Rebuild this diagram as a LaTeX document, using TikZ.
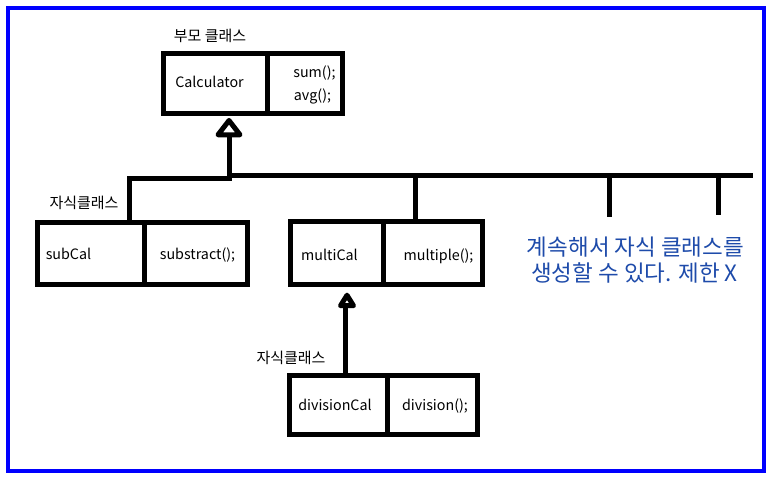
\documentclass[tikz,border=0pt]{standalone}
\usepackage{fontspec}
\setmainfont{Noto Sans CJK KR}
\definecolor{frameblue}{RGB}{0,0,255}
\definecolor{noteblue}{RGB}{30,75,170}
\begin{document}
\begin{tikzpicture}[x=1pt,y=-1pt,
  cell/.style={draw, line width=5pt, inner sep=0pt, outer sep=0pt},
  wire/.style={draw, line width=5pt, line join=miter, line cap=rect},
  tri/.style={draw, fill=white, line width=5pt, line join=round},
  txt/.style={inner sep=0pt, font=\fontsize{14.3pt}{17pt}\selectfont},
  ktxt/.style={inner sep=0pt, font=\fontsize{15pt}{18pt}\selectfont},
  note/.style={inner sep=0pt, text=noteblue, font=\fontsize{22.5pt}{26pt}\selectfont}]
\useasboundingbox (0,0) rectangle (771,478);
\draw[frameblue, line width=4pt] (8,8) rectangle (763.7,470.7);

% Calculator
\node[cell, minimum width=104pt, minimum height=60pt] (calcL) at (215.5,84) {};
\node[cell, minimum width=75pt, minimum height=60pt] (calcR) at (305,84) {};
\node[ktxt] (calcT) at (210,35.5) {부모 클래스};
\node[txt, anchor=base] (calcN) at (209.5,88) {Calculator};
\node[txt, anchor=base] (calcM1) at (314.5,78) {sum();};
\node[txt, anchor=base] (calcM2) at (312.5,101) {avg();};

% subCal
\node[cell, minimum width=106.5pt, minimum height=62pt] (subL) at (90.75,253.5) {};
\node[cell, minimum width=103.5pt, minimum height=62pt] (subR) at (195.75,253.5) {};
\node[ktxt] (subT) at (84,203) {자식클래스};
\node[txt, anchor=base] (subN) at (68.5,260) {subCal};
\node[txt, anchor=base] (subM) at (197.5,260) {substract();};

% multiCal
\node[cell, minimum width=92.5pt, minimum height=62.5pt] (mulL) at (336.75,253.25) {};
\node[cell, minimum width=99.5pt, minimum height=62.5pt] (mulR) at (432.75,253.25) {};
\node[txt, anchor=base] (mulN) at (329.5,260.5) {multiCal};
\node[txt, anchor=base] (mulM) at (438.5,260.5) {multiple();};

% divisionCal
\node[cell, minimum width=98.5pt, minimum height=58.5pt] (divL) at (338.25,404.75) {};
\node[cell, minimum width=90pt, minimum height=58.5pt] (divR) at (432.5,404.75) {};
\node[ktxt] (divT) at (291,358) {자식클래스};
\node[txt, anchor=base] (divN) at (335,410.5) {divisionCal};
\node[txt, anchor=base] (divM) at (435,410.5) {division();};

% note
\node[note] (note1) at (635.5,247.5) {계속해서 자식 클래스를};
\node[note] (note2) at (634.5,272.5) {생성할 수 있다. 제한 X};

% bus and connectors
\coordinate (j1) at (129.5,179);
\coordinate (j2) at (229,179);
\coordinate (b0) at (229,175.5);
\coordinate (b1) at (415,175.5);
\coordinate (b2) at (609,175.5);
\coordinate (b3) at (718,175.5);
\coordinate (bend) at (750,175.5);
\coordinate (d2) at (609,215);
\coordinate (d3) at (718,213);
\coordinate (a1) at (229,120.5);
\coordinate (t1) at (229,134.8);
\coordinate (a2) at (347,295.2);
\coordinate (t2) at (345.8,305.7);

\draw[wire] (subL.north -| j1) -- (j1) -- (j2);
\draw[wire] (b0) -- (bend);
\draw[wire] (b1) -- (mulR.north -| b1);
\draw[wire] (b2) -- (d2);
\draw[wire] (b3) -- (d3);
% generalisation: subCal/bus -> Calculator
\draw[wire] (j2) -- (t1);
\draw[tri] (a1) -- ++(-11,14.3) -- ++(22,0) -- cycle;
% generalisation: divisionCal -> multiCal
\draw[wire] (divL.north -| t2) -- (t2);
\draw[tri] (a2) -- ++(-6.5,10.5) -- ++(13,0) -- cycle;
\end{tikzpicture}
\end{document}
